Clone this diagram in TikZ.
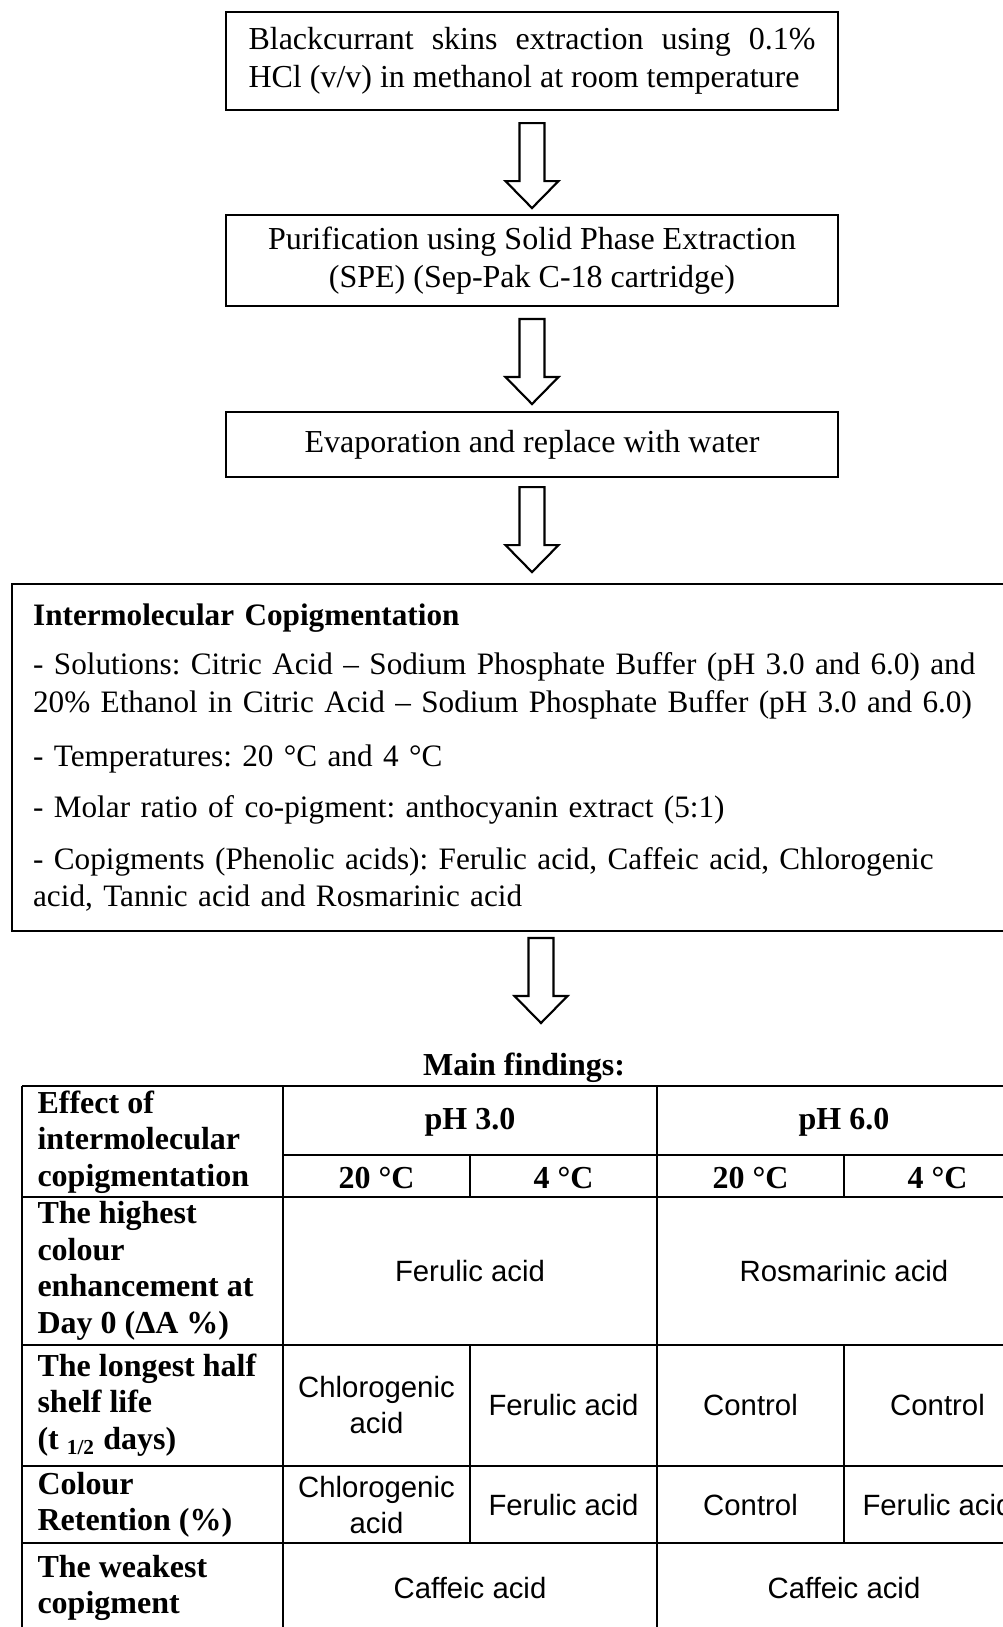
\documentclass[tikz,border=0pt]{standalone}
\usepackage{fontspec}
\setmainfont{Liberation Serif}
\newfontfamily\cellfont{Liberation Sans}
\usetikzlibrary{calc}
\frenchspacing

\tikzset{
  bigarrow/.pic={
    \draw[line width=0.8pt, fill=white] (-12.5,0) -- (-12.5,58) -- (-26.5,58) -- (0,85)
      -- (26.5,58) -- (12.5,58) -- (12.5,0) -- cycle;
  }
}

\begin{document}
\begin{tikzpicture}[x=0.375pt, y=-0.375pt,
  stepbox/.style={draw, line width=0.8pt, inner sep=0pt, font=\fontsize{12}{14.2}\selectfont},
  tabline/.style={line width=0.8pt},
  rowlabel/.style={anchor=west, align=left, inner sep=0pt, font=\fontsize{12}{13.7}\selectfont\bfseries},
  colhead/.style={inner sep=0pt, font=\fontsize{12}{13.7}\selectfont\bfseries},
  cell/.style={align=center, inner sep=0pt, font=\cellfont\fontsize{11}{13.6}\selectfont}]
  \useasboundingbox (0,0) rectangle (1003,1627);

  % flow chart
  \node[stepbox, align=left, minimum width=229.5pt, minimum height=36.75pt] (extract) at (532,61)
    {\makebox[212.6pt][s]{Blackcurrant skins extraction using 0.1\%}\\HCl (v/v) in methanol at room temperature};
  \node[stepbox, align=center, minimum width=229.5pt, minimum height=34.1pt] (purify) at (532,260.5)
    {Purification using Solid Phase Extraction\\(SPE) (Sep-Pak C-18 cartridge)};
  \node[stepbox, minimum width=229.5pt, minimum height=24.4pt] (evap) at (532,444.5)
    {Evaporation and replace with water};
  \node[stepbox, anchor=north west, align=left, inner xsep=7.9pt, text width=400pt,
    minimum height=130.1pt, font=\fontsize{11.7}{14.2}\selectfont] (copig) at (11,583)
    {\textbf{Intermolecular Copigmentation}\\[4.5pt]
     - Solutions: Citric Acid – Sodium Phosphate Buffer (pH 3.0 and 6.0) and\\
     20\% Ethanol in Citric Acid – Sodium Phosphate Buffer (pH 3.0 and 6.0)\\[6pt]
     - Temperatures: 20 °C and 4 °C\\[5pt]
     - Molar ratio of co-pigment: anthocyanin extract (5:1)\\[5pt]
     - Copigments (Phenolic acids): Ferulic acid, Caffeic acid, Chlorogenic\\
     acid, Tannic acid and Rosmarinic acid};

  \pic at ($(extract.south)+(0,12)$) {bigarrow};
  \pic at ($(purify.south)+(0,12)$) {bigarrow};
  \pic at ($(evap.south)+(0,9)$) {bigarrow};
  \pic at ($(copig.north west)+(530,355)$) {bigarrow};

  % findings table
  \node[colhead] (findings) at (524,1068) {Main findings:};
  \foreach \y in {1086,1197,1345,1466,1543,1633}
    \draw[tabline] (22,\y) -- (1031,\y);
  \draw[tabline] (283,1155) -- (1031,1155);
  \foreach \x in {22,283,657,1031}
    \draw[tabline] (\x,1086) -- (\x,1633);
  \foreach \x in {470,844} {
    \draw[tabline] (\x,1155) -- (\x,1197);
    \draw[tabline] (\x,1345) -- (\x,1543);
  }

  \node[rowlabel] (effect) at (37,1142) {Effect of\\intermolecular\\copigmentation};
  \node[colhead] (phlow) at (470,1122) {pH 3.0};
  \node[colhead] (phhigh) at (844,1122) {pH 6.0};
  \node[colhead] (lowwarm) at (376.5,1178) {20 °C};
  \node[colhead] (lowcold) at (563.5,1178) {4 °C};
  \node[colhead] (highwarm) at (750.5,1178) {20 °C};
  \node[colhead] (highcold) at (937.5,1178) {4 °C};

  \node[rowlabel] (enhance) at (37,1271) {The highest\\colour\\enhancement at\\Day 0 (ΔA \%)};
  \node[cell] (enhlow) at (470,1271) {Ferulic acid};
  \node[cell] (enhhigh) at (844,1271) {Rosmarinic acid};

  \node[rowlabel] (shelf) at (37,1405) {The longest half\\shelf life\\(t \textsubscript{1/2} days)};
  \node[cell] (shelfa) at (376.5,1405) {Chlorogenic\\acid};
  \node[cell] (shelfb) at (563.5,1405) {Ferulic acid};
  \node[cell] (shelfc) at (750.5,1405) {Control};
  \node[cell] (shelfd) at (937.5,1405) {Control};

  \node[rowlabel] (retain) at (37,1505) {Colour\\Retention (\%)};
  \node[cell] (retaina) at (376.5,1505) {Chlorogenic\\acid};
  \node[cell] (retainb) at (563.5,1505) {Ferulic acid};
  \node[cell] (retainc) at (750.5,1505) {Control};
  \node[cell] (retaind) at (937.5,1505) {Ferulic acid};

  \node[rowlabel] (weak) at (37,1588) {The weakest\\copigment};
  \node[cell] (weaklow) at (470,1588) {Caffeic acid};
  \node[cell] (weakhigh) at (844,1588) {Caffeic acid};
\end{tikzpicture}
\end{document}
